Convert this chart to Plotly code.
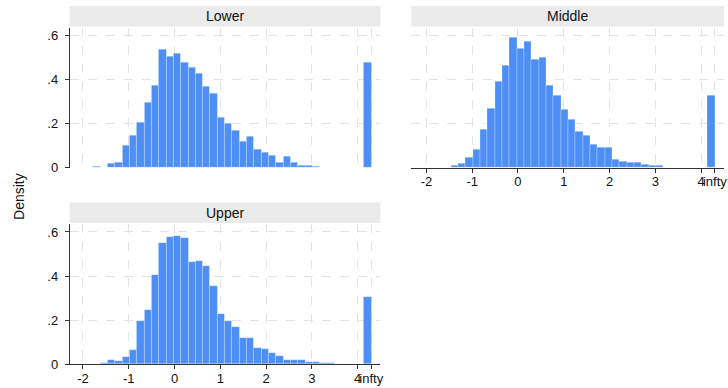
import plotly.graph_objects as go

# ---- data ----
bin_centers = [-2.02, -1.86, -1.70, -1.54, -1.38, -1.22, -1.06, -0.90, -0.74, -0.58,
               -0.42, -0.26, -0.10, 0.06, 0.22, 0.38, 0.54, 0.70, 0.86, 1.02,
               1.18, 1.34, 1.50, 1.66, 1.82, 1.98, 2.14, 2.30, 2.46, 2.62,
               2.78, 2.94, 3.10, 3.26, 3.42, 3.58, 3.74, 3.90, 4.06, 4.22]
bin_width = 0.16

lower = [0.003, 0.003, 0.006, 0.0, 0.020, 0.025, 0.100, 0.148, 0.207, 0.298,
         0.374, 0.535, 0.506, 0.520, 0.479, 0.453, 0.427, 0.370, 0.335, 0.227,
         0.202, 0.169, 0.117, 0.140, 0.082, 0.068, 0.056, 0.024, 0.053, 0.024,
         0.009, 0.009, 0.006, 0.003, 0.003, 0.0, 0.0, 0.0, 0.0, 0.479]
middle = [0.002, 0.002, 0.003, 0.003, 0.011, 0.017, 0.046, 0.083, 0.175, 0.270,
          0.392, 0.465, 0.589, 0.542, 0.572, 0.492, 0.498, 0.372, 0.326, 0.266,
          0.220, 0.166, 0.148, 0.105, 0.091, 0.091, 0.038, 0.029, 0.023, 0.023,
          0.015, 0.009, 0.009, 0.003, 0.003, 0.002, 0.002, 0.002, 0.0, 0.329]
upper = [0.0, 0.0, 0.0, 0.005, 0.017, 0.014, 0.033, 0.063, 0.198, 0.247,
         0.405, 0.549, 0.579, 0.582, 0.574, 0.462, 0.466, 0.445, 0.356, 0.226,
         0.198, 0.171, 0.117, 0.117, 0.072, 0.070, 0.052, 0.038, 0.020, 0.020,
         0.018, 0.012, 0.008, 0.006, 0.006, 0.002, 0.0, 0.0, 0.0, 0.307]

panel_names = ["Lower", "Middle", "Upper"]
x_tickvals = [-2, -1, 0, 1, 2, 3, 4, 4.3]
x_ticktext = ["-2", "-1", "0", "1", "2", "3", "4", "infty"]
y_tickvals = [0, 0.2, 0.4, 0.6]
y_ticktext = ["0", ".2", ".4", ".6"]

# ---- layout geometry ----
# screenshots come out vertically scaled by ~388/396, so the figure is 396 tall
W, H = 728, 396
TARGET_H = 388
FONT = "Liberation Sans, Arial, Helvetica, sans-serif"
BAR = "#4d8ff6"
GRID = "#e3e3e3"
AX = "#333333"

def px(x):
    return x / W

def py(y):
    return 1 - y / TARGET_H

panels = {
    "Lower": dict(x0=70, x1=382, top=27.5, bottom=167.7, xrange=[-2.29, 4.5], showx=False, showy=True),
    "Middle": dict(x0=413, x1=727, top=27.5, bottom=167.7, xrange=[-2.33, 4.5], showx=True, showy=False),
    "Upper": dict(x0=70, x1=382, top=224, bottom=364.2, xrange=[-2.29, 4.5], showx=True, showy=True),
}
series = {"Lower": lower, "Middle": middle, "Upper": upper}

fig = go.Figure()
shapes = []
annotations = []

for i, name in enumerate(panel_names, start=1):
    p = panels[name]
    xa = "x" if i == 1 else f"x{i}"
    ya = "y" if i == 1 else f"y{i}"
    fig.add_trace(go.Bar(
        x=bin_centers, y=series[name], width=bin_width,
        marker=dict(color=BAR, line=dict(color="rgba(255,255,255,0.45)", width=0.6)),
        xaxis=xa, yaxis=ya, showlegend=False, hoverinfo="x+y",
    ))
    xkey = "xaxis" if i == 1 else f"xaxis{i}"
    ykey = "yaxis" if i == 1 else f"yaxis{i}"
    fig.layout[xkey] = dict(
        domain=[px(p["x0"]), px(p["x1"])], range=p["xrange"], anchor=ya,
        tickmode="array", tickvals=x_tickvals, ticktext=x_ticktext,
        showticklabels=p["showx"], ticks="outside" if p["showx"] else "",
        ticklen=4, tickcolor=AX, tickwidth=1, tickangle=0,
        showline=p["showx"], linecolor=AX, linewidth=1,
        showgrid=True, gridcolor=GRID, griddash="dash", gridwidth=1,
        zeroline=False, ticklabelstandoff=-2,
        tickfont=dict(family=FONT, size=13, color="#111111"),
    )
    fig.layout[ykey] = dict(
        domain=[py(p["bottom"]), py(p["top"])], range=[0, 0.636], anchor=xa,
        tickmode="array", tickvals=y_tickvals, ticktext=y_ticktext,
        showticklabels=p["showy"], ticks="outside" if p["showy"] else "",
        ticklen=4, tickcolor=AX, tickwidth=1,
        showline=p["showy"], linecolor=AX, linewidth=1,
        showgrid=True, gridcolor=GRID, griddash="dash", gridwidth=1,
        zeroline=False, ticklabelstandoff=4,
        tickfont=dict(family=FONT, size=13, color="#111111"),
    )
    # title band
    shapes.append(dict(type="rect", xref="paper", yref="paper",
                       x0=px(p["x0"]), x1=px(p["x1"]),
                       y0=py(p["top"] - 1), y1=py(p["top"] - 21.5),
                       fillcolor="#ebebeb", line=dict(width=0), layer="below"))
    annotations.append(dict(text=name, xref="paper", yref="paper",
                            x=px((p["x0"] + p["x1"]) / 2), y=py(p["top"] - 11),
                            xanchor="center", yanchor="middle", showarrow=False,
                            font=dict(family=FONT, size=14, color="#111111")))

annotations.append(dict(text="Density", xref="paper", yref="paper",
                        x=px(19), y=py(196), textangle=-90,
                        xanchor="center", yanchor="middle", showarrow=False,
                        font=dict(family=FONT, size=14, color="#111111")))

fig.update_layout(
    width=W, height=H, margin=dict(l=0, r=0, t=0, b=0),
    paper_bgcolor="white", plot_bgcolor="white",
    bargap=0, shapes=shapes, annotations=annotations,
)

# remove the default 8px page margin so the figure fills the window exactly
fig.write_html("out.html", config={"displayModeBar": False},
               post_script="document.body.style.margin='0px';document.body.style.overflow='hidden';")
